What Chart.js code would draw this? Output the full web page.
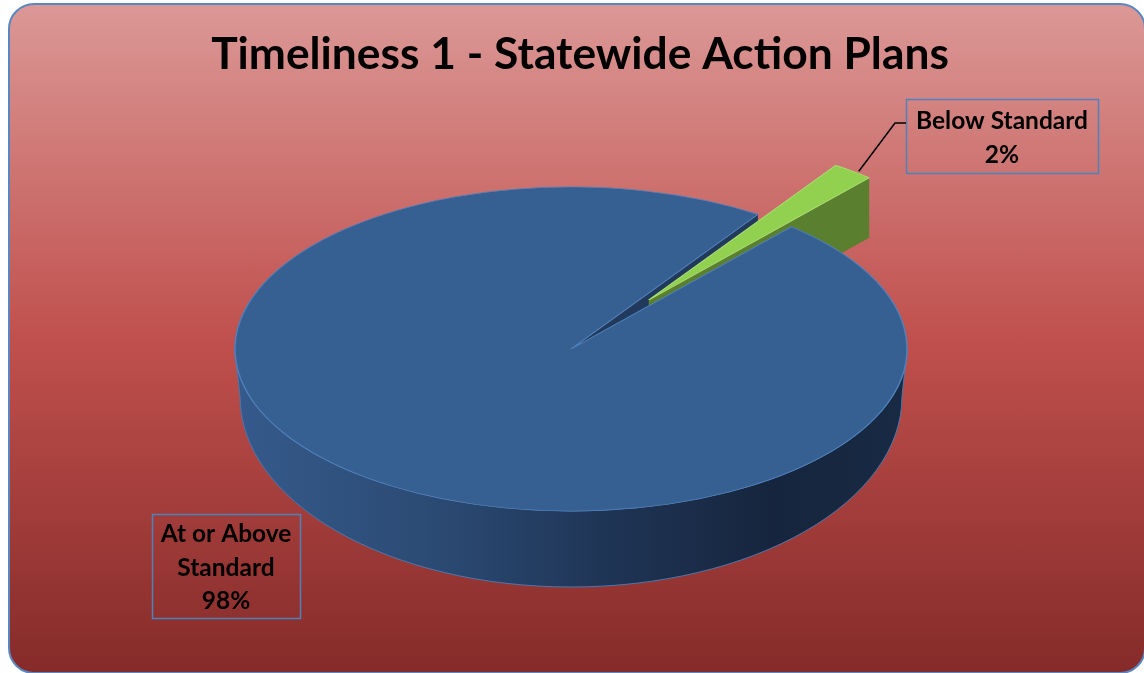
<!DOCTYPE html>
<html><head><meta charset="utf-8">
<script src="https://cdn.jsdelivr.net/npm/chart.js@4"></script>
<style>
html,body{margin:0;padding:0;background:#fff;}
#wrap{position:absolute;left:0;top:0;width:1144px;height:673px;overflow:hidden;}
#card{position:absolute;left:8px;top:3px;width:1138px;height:671px;border:2px solid #5b87c1;border-radius:26px;box-sizing:border-box;
background:linear-gradient(#db9896 0%, #c0504d 50%, #852b29 100%);}
canvas{position:absolute;left:0;top:0;}
</style></head><body>
<div id="wrap"><div id="card"></div><canvas id="c" width="1144" height="673"></canvas></div>
<script>
// ---- data ----
const TITLE_TEXT = 'Timeliness 1 - Statewide Action Plans';
const categories = ['At or Above Standard', 'Below Standard'];
const values = [98, 2];
const explode = [0, 128];

// ---- styles ----
const sliceColors = ['#366092', '#92d050'];
const sliceBorders = ['#4f81bd', '#a9dd73'];
const faceColors = ['#213a5c', '#5a7f2e'];
const FONT = 'Lato, "Open Sans", sans-serif';
const VIEW = {cx: 571, cy: 349, k: 162/336, depthC: 48, rxB: 0.985, ryB: 190/336};
const LABEL_BOXES = [{x:152, y:514, w:148, h:104}, {x:906, y:99, w:192, h:74}];

const canvas = document.getElementById('c');
const mctx = canvas.getContext('2d');
function fitSize(text, target){ mctx.font = 'bold 100px ' + FONT; return 100*target/mctx.measureText(text).width; }
const titleSize = fitSize(TITLE_TEXT, 738);
const labelSize = fitSize(categories[1], 172);

function frontRanges(s, e){
  const out = [];
  for (let k = -2; k <= 2; k++){
    const lo = Math.max(s, 2*Math.PI*k), hi = Math.min(e, 2*Math.PI*k + Math.PI);
    if (hi > lo) out.push([lo - 2*Math.PI*k, hi - 2*Math.PI*k]);
  }
  return out;
}

const pie3d = {
  id: 'pie3d',
  beforeDatasetsDraw(chart){
    const ctx = chart.ctx, arcs = chart.getDatasetMeta(0).data, a0 = arcs[0];
    const r = a0.outerRadius, cx = VIEW.cx, cy = VIEW.cy, k = VIEW.k;
    const ry = r*k, cyB = cy + VIEW.depthC, rxb = r*VIEW.rxB, ryb = r*VIEW.ryB;
    ctx.save();
    // outer side walls
    const g = ctx.createLinearGradient(cx - r, 0, cx + r, 0);
    g.addColorStop(0, '#355a8b'); g.addColorStop(0.3, '#2b4a73'); g.addColorStop(0.55, '#1f3556');
    g.addColorStop(0.8, '#16253d'); g.addColorStop(1, '#182a44');
    arcs.forEach((arc, i) => {
      if (explode[i]) return;
      frontRanges(arc.startAngle, arc.endAngle).forEach(([s, e]) => {
        ctx.beginPath();
        ctx.ellipse(cx, cy, r, ry, 0, s, e, false);
        ctx.ellipse(cx, cyB, rxb, ryb, 0, e, s, true);
        ctx.closePath();
        ctx.fillStyle = g; ctx.fill();
        ctx.strokeStyle = '#4a77ae'; ctx.lineWidth = 1; ctx.stroke();
      });
    });
    // radial faces
    arcs.forEach((arc, i) => {
      const mid = (arc.startAngle + arc.endAngle)/2, E = explode[i];
      const ax = cx + E*Math.cos(mid), ay = cy + E*k*Math.sin(mid);
      const d = E ? 60 : 48;
      [[arc.endAngle, Math.cos(arc.endAngle) > 0], [arc.startAngle, Math.cos(arc.startAngle) < 0]].forEach(([ang, vis]) => {
        if (!vis) return;
        const rx = ax + r*Math.cos(ang), rY = ay + ry*Math.sin(ang);
        ctx.beginPath();
        ctx.moveTo(ax, ay); ctx.lineTo(rx, rY); ctx.lineTo(rx, rY + d); ctx.lineTo(ax, ay + d);
        ctx.closePath();
        ctx.fillStyle = faceColors[i]; ctx.fill();
      });
    });
    ctx.restore();
    // explode slices (shift element centres)
    chart.$base = {x: a0.x, y: a0.y};
    arcs.forEach((arc, i) => {
      const mid = (arc.startAngle + arc.endAngle)/2;
      arc.$dx = explode[i]*Math.cos(mid); arc.$dy = explode[i]*Math.sin(mid);
      arc.x += arc.$dx; arc.y += arc.$dy;
    });
    ctx.save();
    ctx.translate(cx, cy); ctx.scale(1, k); ctx.translate(-chart.$base.x, -chart.$base.y);
  },
  afterDatasetsDraw(chart){
    chart.ctx.restore();
    chart.getDatasetMeta(0).data.forEach(arc => { arc.x -= arc.$dx; arc.y -= arc.$dy; });
  },
  afterDraw(chart){
    const ctx = chart.ctx, arcs = chart.getDatasetMeta(0).data;
    const total = values.reduce((a, b) => a + b, 0);
    const r = arcs[0].outerRadius, k = VIEW.k;
    ctx.save();
    ctx.font = 'bold ' + labelSize + 'px ' + FONT;
    ctx.textAlign = 'center'; ctx.textBaseline = 'middle';
    LABEL_BOXES.forEach((b, i) => {
      // wrap category text
      const words = categories[i].split(' '), lines = [];
      let cur = '';
      words.forEach(w => { const t = cur ? cur + ' ' + w : w; if (ctx.measureText(t).width > b.w - 12 && cur){ lines.push(cur); cur = w; } else cur = t; });
      lines.push(cur);
      lines.push(Math.round(values[i]/total*100) + '%');
      const lh = 33.5, y0 = b.y + b.h/2 - (lines.length - 1)*lh/2 + 2;
      ctx.fillStyle = '#000';
      lines.forEach((l, j) => ctx.fillText(l, b.x + b.w/2, y0 + j*lh));
      ctx.strokeStyle = '#4f81bd'; ctx.lineWidth = 1.5;
      ctx.strokeRect(b.x + 0.5, b.y + 0.5, b.w, b.h);
      if (explode[i]){
        const arc = arcs[i], mid = (arc.startAngle + arc.endAngle)/2;
        const px = VIEW.cx + (explode[i] + r)*Math.cos(mid) + 6;
        const py = VIEW.cy + (explode[i] + r)*k*Math.sin(mid);
        ctx.beginPath();
        ctx.moveTo(px, py); ctx.lineTo(b.x - 11, b.y + 24); ctx.lineTo(b.x, b.y + 24);
        ctx.strokeStyle = '#000'; ctx.lineWidth = 1.5; ctx.stroke();
      }
    });
    ctx.restore();
  }
};

new Chart(canvas, {
  type: 'pie',
  data: {labels: categories, datasets: [{data: values, backgroundColor: sliceColors, borderColor: sliceBorders,
    borderWidth: 1.5, radius: 336, rotation: 41, clip: false, hoverOffset: 0}]},
  options: {
    responsive: false, animation: false, events: [],
    layout: {padding: {left: 16, right: 0, top: 0, bottom: 0}},
    plugins: {
      legend: {display: false}, tooltip: {enabled: false},
      title: {display: true, text: TITLE_TEXT, color: '#000',
        font: {family: FONT, size: titleSize, weight: 'bold'},
        padding: {top: 55 - titleSize*0.6, bottom: 0}}
    }
  },
  plugins: [pie3d]
});
</script>
</body></html>
